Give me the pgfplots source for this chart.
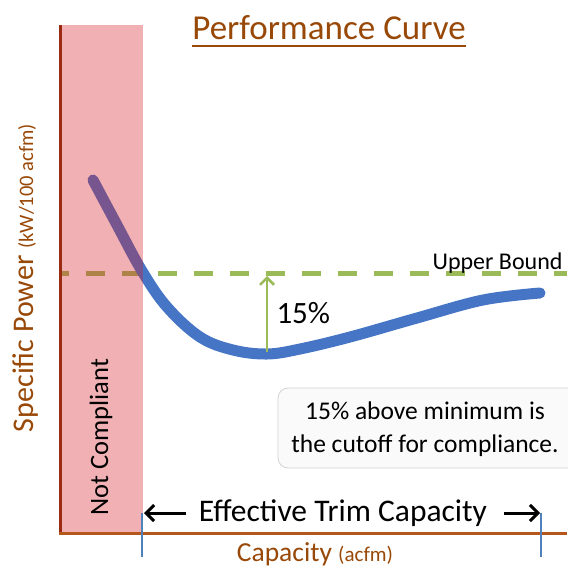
\documentclass[border=0pt]{standalone}
\usepackage{fontspec}
\setmainfont{Carlito}
\usepackage{pgfplots}
\pgfplotsset{compat=1.18}
\usetikzlibrary{arrows.meta}
\definecolor{brownt}{HTML}{984807}
\definecolor{ubgreen}{HTML}{9BBB59}
\definecolor{curveblue}{HTML}{4675C6}
\definecolor{pinkc}{RGB}{212,29,41}
\definecolor{axred}{HTML}{9A2A10}
\definecolor{axbrown}{HTML}{B5561C}
\definecolor{tickblue}{HTML}{4F81BD}
\begin{document}
\begin{tikzpicture}
\begin{axis}[width=567bp, height=570bp, scale only axis,
  xmin=0, xmax=567, ymin=0, ymax=570, y dir=reverse,
  hide axis, clip=false]
% upper bound (dashed)
\addplot[color=ubgreen, line width=5bp, dash pattern=on 19bp off 17bp, dash phase=10bp]
  coordinates {(60,273) (567,273)};
% performance curve
\addplot[color=curveblue, line width=11bp, smooth, tension=0.6, line cap=round] coordinates {
  (93,180) (117,225) (142,271) (167,307) (200,337) (233,350) (267,354)
  (300,349) (350,337) (417,318) (483,300) (540,293)
};
% 15% arrow
\draw[ubgreen, line width=2.5bp, -{Straight Barb[length=7bp,width=14bp,line width=2.5bp]}]
  (axis cs:267,352) -- (axis cs:267,276);
\node[font=\fontsize{31bp}{36bp}\selectfont, anchor=west] at (axis cs:273,313) {15\%};
% not compliant region
\addplot[draw=none, fill=pinkc, fill opacity=0.35] coordinates {(60,25) (143,25) (143,533) (60,533)} -- cycle;
\node[rotate=90, font=\fontsize{26.5bp}{30bp}\selectfont] at (axis cs:101,437) {Not Compliant};
% axes lines
\draw[axred, line width=3bp] (axis cs:60,25) -- (axis cs:60,534.5);
\draw[axbrown, line width=3bp] (axis cs:58.5,533) -- (axis cs:567,533);
% title
\node[anchor=base, text=brownt, font=\fontsize{35bp}{42bp}\selectfont] at (axis cs:329,40) {Performance Curve};
\draw[brownt, line width=2.5bp] (axis cs:192,46) -- (axis cs:466,46);
% y label
\node[rotate=90, text=brownt, anchor=base] at (axis cs:33,278)
  {\fontsize{30bp}{34bp}\selectfont Specific Power \fontsize{20.5bp}{24bp}\selectfont(kW/100 acfm)};
% x label
\node[text=brownt, anchor=base] at (axis cs:315,561)
  {\fontsize{27.5bp}{32bp}\selectfont Capacity \fontsize{21bp}{24bp}\selectfont(acfm)};
% upper bound label
\node[anchor=base east, font=\fontsize{24bp}{28bp}\selectfont] at (axis cs:566,269) {Upper Bound};
% note box
\draw[gray!35, fill=gray!4, rounded corners=10bp, line width=0.8bp] (axis cs:278,388) rectangle (axis cs:600,468);
\node[align=center, font=\fontsize{25.5bp}{33bp}\selectfont] at (axis cs:425,429)
  {15\% above minimum is\\the cutoff for compliance.};
% effective trim capacity
\draw[tickblue, line width=2bp] (axis cs:142,513) -- (axis cs:142,557);
\draw[tickblue, line width=2bp] (axis cs:541,513) -- (axis cs:541,557);
\draw[black, line width=3bp, -{Straight Barb[length=8bp,width=16bp,line width=3bp]}]
  (axis cs:186,513) -- (axis cs:144,513);
\draw[black, line width=3bp, -{Straight Barb[length=8bp,width=16bp,line width=3bp]}]
  (axis cs:504,513) -- (axis cs:540,513);
\node[font=\fontsize{31.5bp}{36bp}\selectfont] at (axis cs:343,513) {Effective Trim Capacity};
\end{axis}
\pgfresetboundingbox
\useasboundingbox (current axis.south west) rectangle (current axis.north east);
\end{tikzpicture}
\end{document}
